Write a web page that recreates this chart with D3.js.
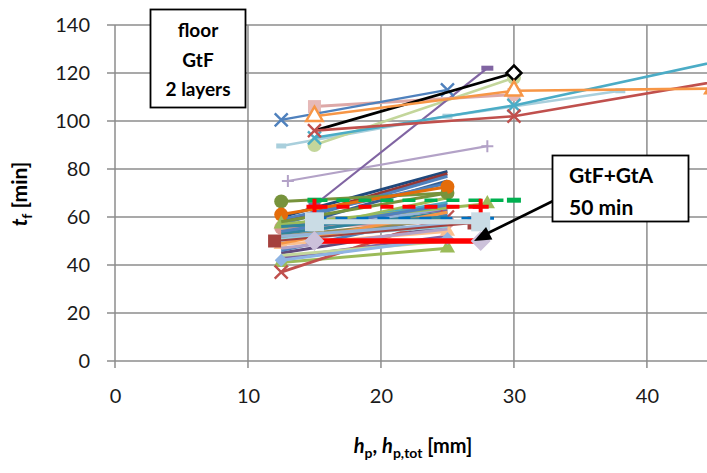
<!DOCTYPE html>
<html><head><meta charset="utf-8">
<script src="https://cdn.jsdelivr.net/npm/d3@7"></script>
<style>body{margin:0;background:#fff}svg{display:block;font-family:Lato,"Open Sans",sans-serif}</style>
</head><body><svg id="c" width="707" height="473"></svg>
<script>
// ---- data ----
const xTicks = [0, 10, 20, 30, 40];
const yTicks = [0, 20, 40, 60, 80, 100, 120, 140];
// cluster of two-point series: x from clusterX0 to clusterX1, t_f from clusterY0 to clusterY1
const clusterX0 = [12.5,12.5,12.5,12.5,12.5,12.5,12.5,12.5,12.5,12.5,12.5,12.5,12.5,12.5,12.5,12.5,12.5,12.5,12.5,12.5,12.5,12.5,12.5,12.5,12.5,12.5,12.5,12.5,12.5,12.5,12.5,12.5];
const clusterX1 = [25,25,25,25,25,25,25,25,25,25,25,25,25,25,25,25,25,25,25,25,25,25,25,25,25,25,28,25,25,25,25,25];
const clusterY0 = [60,58,57,55,59,53,54,56,52,50,55.5,53,45,43,41,37,48.5,44,50,46,47,42,51,52,66.5,61,57,58,54,49,56,52];
const clusterY1 = [79,78,77,75,74,68,66,63,64,60,58,62,56,52,47,60,54,50,57,61,55,51,56,59,70,72.6,65.5,70,65,62,60,57];
// individual series
const blueX = [[12.5,100.5],[25,113]];
const pinkSq = [[15,106],[30,111]];
const orangeTri = [[15,102],[30,112.6],[45,113.5]];
const blackDia = [[15,96],[30,120]];
const redX = [[15,96],[30,102],[50,121]];
const aquaX = [[15,93],[30,106.5],[50,130.5]];
const greenCirc = [[15,90],[30,118]];
const lightBlue = [[12.5,89.6],[25,102],[38,112.6]];
const purpleDash = [[15,65],[28,122]];
const lavPlus = [[13,75],[28,89.5]];
const greenDashed = [[15,67],[30,67]];
const redDashed = [[15,64.3],[27.5,64.3]];
const steelSq = [[15,58],[27.5,58]];
const blueDashed = [[15,59.5],[28.5,59.5]];
const brownSq = [[12,50],[27,57.5]];
const lavDia = [[15,50],[27.5,50]];
const redThick = [[15,50],[27,50]];
const arrowTip = [27, 50];

// ---- styles (kept apart from data) ----
const clusterColor = ["#1F497D","#953735","#4F81BD","#376092","#4F81BD","#9BBB59","#4BACC6","#8064A2","#95B3D7","#E46C0A","#D99694","#31859C","#604A7B","#8064A2","#9BBB59","#C0504D","#FAC090","#C3D69B","#B9CDE5","#4F81BD","#B3A2C7","#8EB4E3","#93CDDD","#948A54","#77933C","#E46C0A","#9BBB59","#77933C","#4F81BD","#F79646","#31859C","#95B3D7"];
const clusterMark = ["none","none","none","none","none","none","none","none","none","none","circle","none","none","none","triangle","x","triangle","none","none","none","none","diamond","none","none","circle","circle","triangle","none","none","none","none","none"];

const svg = d3.select("#c");
const x = d3.scaleLinear().domain([0, 45]).range([115, 114 + 45 * 13.32]);
const y = d3.scaleLinear().domain([0, 140]).range([361, 25]);
const W = 707;
const grid = "#8c8c8c";

// gridlines
svg.append("g").selectAll("line").data(yTicks).join("line")
  .attr("x1", 107).attr("x2", W).attr("y1", d => y(d)).attr("y2", d => y(d))
  .attr("stroke", grid).attr("stroke-width", 1.5);
svg.append("g").selectAll("line").data(xTicks).join("line")
  .attr("x1", d => x(d)).attr("x2", d => x(d)).attr("y1", y(140)).attr("y2", 368)
  .attr("stroke", grid).attr("stroke-width", 1.5);

// axes labels via d3 axes
const ya = svg.append("g").attr("transform", "translate(107,0)")
  .call(d3.axisLeft(y).tickValues(yTicks).tickSize(0).tickPadding(17));
const xa = svg.append("g").attr("transform", "translate(0,375)")
  .call(d3.axisBottom(x).tickValues(xTicks).tickSize(0).tickPadding(14));
[ya, xa].forEach(a => { a.select(".domain").remove(); a.selectAll("text").attr("font-size", 20).attr("fill", "#1a1a1a").attr("font-family", "Lato"); });

// clip for plot area
svg.append("clipPath").attr("id", "pc").append("rect").attr("x", 0).attr("y", 0).attr("width", W).attr("height", 473);
const plot = svg.append("g").attr("clip-path", "url(#pc)");
const line = d3.line().x(d => x(d[0])).y(d => y(d[1]));

function marker(g, type, px, py, color, size, fill) {
  const s = size / 2;
  if (type === "none") return;
  if (type === "x") {
    g.append("path").attr("d", `M${px-s},${py-s}L${px+s},${py+s}M${px-s},${py+s}L${px+s},${py-s}`).attr("stroke", color).attr("stroke-width", 2.4).attr("fill", "none");
  } else if (type === "plus") {
    g.append("path").attr("d", `M${px-s},${py}L${px+s},${py}M${px},${py-s}L${px},${py+s}`).attr("stroke", color).attr("stroke-width", 2).attr("fill", "none");
  } else if (type === "dash") {
    g.append("rect").attr("x", px - s).attr("y", py - 2.5).attr("width", size).attr("height", 5).attr("fill", color);
  } else if (type === "plusThick") {
    g.append("path").attr("d", `M${px-s},${py}L${px+s},${py}M${px},${py-s}L${px},${py+s}`).attr("stroke", color).attr("stroke-width", 4).attr("fill", "none");
  } else if (type === "diamond") {
    g.append("path").attr("d", `M${px},${py-s}L${px+s},${py}L${px},${py+s}L${px-s},${py}Z`)
      .attr("fill", fill || color).attr("stroke", fill ? color : "none").attr("stroke-width", 2.5);
  } else {
    const sym = {circle: d3.symbolCircle, square: d3.symbolSquare, triangle: d3.symbolTriangle}[type];
    const area = type === "circle" ? Math.PI * s * s : type === "square" ? size * size : size * size * 0.6;
    g.append("path").attr("d", d3.symbol(sym, area)()).attr("transform", `translate(${px},${py})`)
      .attr("fill", fill || color).attr("stroke", fill ? color : "none").attr("stroke-width", 2.5);
  }
}
function series(data, color, width, mtype, msize, opts = {}) {
  const g = plot.append("g");
  g.append("path").attr("d", line(data)).attr("fill", "none").attr("stroke", opts.lineColor || color)
    .attr("stroke-width", width).attr("stroke-dasharray", opts.dash || null);
  const pts = opts.lastOnly ? data.slice(-1) : data;
  pts.forEach(d => marker(g, mtype, x(d[0]), y(d[1]), opts.markColor || color, msize, opts.fill));
}

// cluster
clusterY0.forEach((v, i) => {
  series([[clusterX0[i], v], [clusterX1[i], clusterY1[i]]], clusterColor[i], 3, clusterMark[i], clusterMark[i] === "circle" ? 14 : 13);
});

// individual series
series(lavPlus, "#B3A2C7", 2.2, "plus", 12);
series(lightBlue, "#A9CFDC", 2.6, "dash", 10);
series(greenCirc, "#C3D69B", 2.6, "circle", 14);
series(purpleDash, "#8064A2", 2.2, "dash", 12);
series(pinkSq, "#E6B9B8", 3, "square", 13, {lineColor: "#DDA8A7"});
series(blueX, "#4F81BD", 2.2, "x", 13);
series(aquaX, "#4BACC6", 2.6, "x", 13);
series(blackDia, "#000000", 2.8, "diamond", 15, {fill: "#ffffff", lastOnly: true});
series(redX, "#C0504D", 2.6, "x", 13);
series(orangeTri, "#F79646", 2.6, "triangle", 14, {fill: "#ffffff"});
series(brownSq, "#A5413E", 2.2, "square", 13);
series(greenDashed, "#00B050", 3.5, "dash", 14, {dash: "13,9"});
series(redDashed, "#FF0000", 4, "plusThick", 16, {dash: "13,9"});
series(blueDashed, "#0070C0", 3, "none", 8, {dash: "12,9"});
series(steelSq, "#CADCE5", 5, "square", 19);
series(redThick, "#FF0000", 5.5, "none", 0);
series(lavDia, "#CCC1DA", 0, "diamond", 20);

// annotation boxes
const b1 = svg.append("g");
b1.append("rect").attr("x", 150.5).attr("y", 9.5).attr("width", 95).attr("height", 98).attr("fill", "#fff").attr("stroke", "#000").attr("stroke-width", 1.8);
["floor", "GtF", "2 layers"].forEach((t, i) => b1.append("text").attr("x", 198).attr("y", 37 + i * 29.5).attr("text-anchor", "middle")
  .attr("font-size", 19).attr("font-weight", "bold").attr("fill", "#000").text(t));

// arrow
const tipX = x(arrowTip[0]), tipY = y(arrowTip[1]);
const sx = 553, sy = 201;
svg.append("line").attr("x1", sx).attr("y1", sy).attr("x2", tipX + 12).attr("y2", tipY - 7).attr("stroke", "#000").attr("stroke-width", 2.6);
const ang = Math.atan2(tipY - sy, tipX - sx);
const L = 17, Wd = 7;
const bx = tipX - L * Math.cos(ang), by = tipY - L * Math.sin(ang);
svg.append("path").attr("d", `M${tipX},${tipY}L${bx + Wd * Math.sin(ang)},${by - Wd * Math.cos(ang)}L${bx - Wd * Math.sin(ang)},${by + Wd * Math.cos(ang)}Z`).attr("fill", "#000");

const b2 = svg.append("g");
b2.append("rect").attr("x", 552.5).attr("y", 155.5).attr("width", 136).attr("height", 66).attr("fill", "#fff").attr("stroke", "#000").attr("stroke-width", 1.8);
["GtF+GtA", "50 min"].forEach((t, i) => b2.append("text").attr("x", 569).attr("y", 183 + i * 32)
  .attr("font-size", 21).attr("font-weight", "bold").attr("fill", "#000").text(t));

// axis titles
const yt = svg.append("text").attr("transform", "translate(27,194) rotate(-90)").attr("text-anchor", "middle")
  .attr("font-size", 21).attr("font-weight", "bold").attr("fill", "#000");
yt.append("tspan").attr("font-style", "italic").text("t");
yt.append("tspan").attr("font-size", 14).attr("dy", 5).text("f");
yt.append("tspan").attr("dy", -5).text(" [min]");

const xt = svg.append("text").attr("x", 413).attr("y", 453).attr("text-anchor", "middle")
  .attr("font-size", 20).attr("font-weight", "bold").attr("fill", "#000");
xt.append("tspan").attr("font-style", "italic").text("h");
xt.append("tspan").attr("font-size", 14).attr("dy", 5).text("p");
xt.append("tspan").attr("dy", -5).text(", ");
xt.append("tspan").attr("font-style", "italic").text("h");
xt.append("tspan").attr("font-size", 14).attr("dy", 5).text("p,tot");
xt.append("tspan").attr("dy", -5).text(" [mm]");
</script></body></html>
